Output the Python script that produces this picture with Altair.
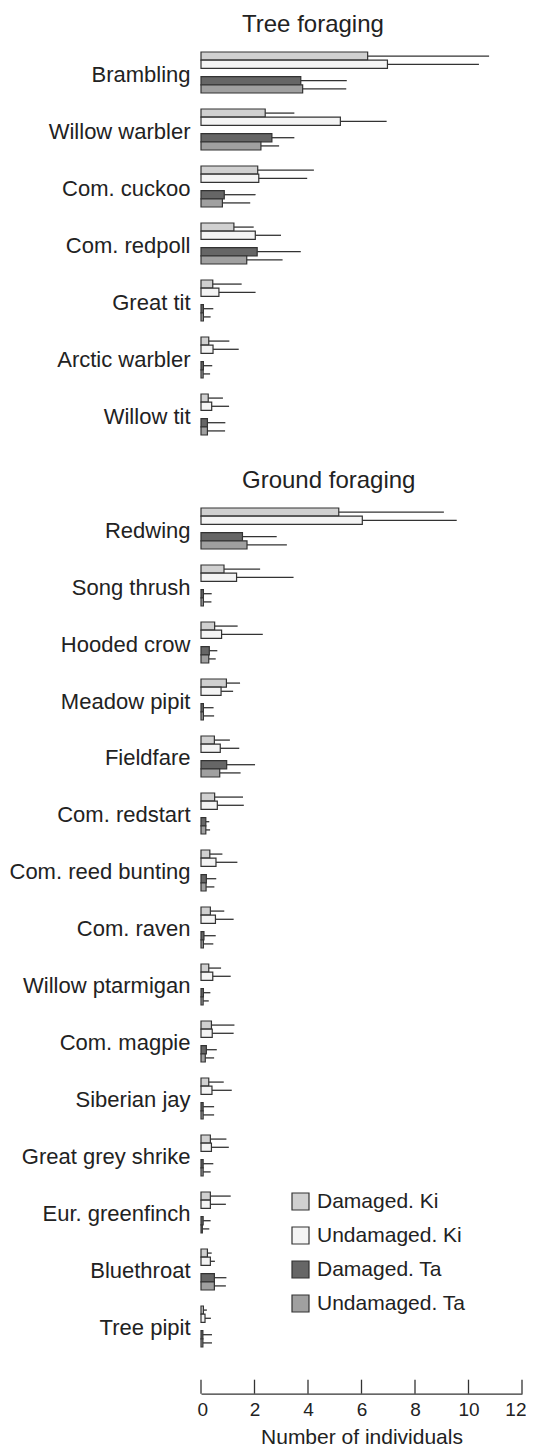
import altair as alt
import pandas as pd

groups = ["Damaged. Ki", "Undamaged. Ki", "Damaged. Ta", "Undamaged. Ta"]
colors = ["#d0d0d0", "#f4f4f4", "#666666", "#a0a0a0"]
offset_domain = ["Damaged. Ki", "Undamaged. Ki", "gap", "Damaged. Ta", "Undamaged. Ta"]
x_ticks = [0, 2, 4, 6, 8, 10, 12]

tree_species = ["Brambling", "Willow warbler", "Com. cuckoo", "Com. redpoll",
                "Great tit", "Arctic warbler", "Willow tit"]
tree_dk_mean = [6.23, 2.40, 2.12, 1.23, 0.44, 0.29, 0.27]
tree_dk_err = [10.77, 3.49, 4.22, 1.97, 1.52, 1.06, 0.82]
tree_uk_mean = [6.97, 5.21, 2.16, 2.03, 0.67, 0.45, 0.40]
tree_uk_err = [10.39, 6.94, 3.97, 2.99, 2.04, 1.41, 1.05]
tree_dt_mean = [3.73, 2.65, 0.87, 2.10, 0.09, 0.09, 0.24]
tree_dt_err = [5.45, 3.49, 2.04, 3.73, 0.46, 0.42, 0.91]
tree_ut_mean = [3.80, 2.24, 0.80, 1.71, 0.09, 0.08, 0.24]
tree_ut_err = [5.43, 2.92, 1.84, 3.05, 0.36, 0.34, 0.90]

ground_species = ["Redwing", "Song thrush", "Hooded crow", "Meadow pipit", "Fieldfare",
                  "Com. redstart", "Com. reed bunting", "Com. raven", "Willow ptarmigan",
                  "Com. magpie", "Siberian jay", "Great grey shrike", "Eur. greenfinch",
                  "Bluethroat", "Tree pipit"]
ground_dk_mean = [5.15, 0.86, 0.51, 0.95, 0.50, 0.51, 0.33, 0.35, 0.29, 0.39, 0.29, 0.35, 0.35, 0.24, 0.09]
ground_dk_err = [9.08, 2.21, 1.37, 1.46, 1.08, 1.57, 0.80, 0.87, 0.75, 1.25, 0.85, 0.95, 1.11, 0.40, 0.22]
ground_uk_mean = [6.03, 1.33, 0.77, 0.75, 0.72, 0.61, 0.56, 0.54, 0.44, 0.42, 0.41, 0.39, 0.35, 0.35, 0.15]
ground_uk_err = [9.56, 3.46, 2.31, 1.20, 1.43, 1.60, 1.36, 1.22, 1.11, 1.22, 1.15, 1.04, 0.93, 0.52, 0.37]
ground_dt_mean = [1.55, 0.09, 0.31, 0.09, 0.96, 0.18, 0.20, 0.11, 0.09, 0.20, 0.08, 0.08, 0.08, 0.50, 0.07]
ground_dt_err = [2.83, 0.40, 0.61, 0.47, 2.02, 0.31, 0.57, 0.55, 0.35, 0.59, 0.49, 0.46, 0.36, 0.95, 0.41]
ground_ut_mean = [1.72, 0.09, 0.29, 0.09, 0.70, 0.18, 0.19, 0.09, 0.08, 0.16, 0.08, 0.08, 0.05, 0.50, 0.07]
ground_ut_err = [3.21, 0.39, 0.55, 0.49, 1.48, 0.34, 0.50, 0.46, 0.29, 0.49, 0.49, 0.36, 0.31, 0.93, 0.41]


def long_df(species, means, errs):
    rows = []
    for g, m_list, e_list in zip(groups, means, errs):
        for s, m, e in zip(species, m_list, e_list):
            rows.append({"species": s, "group": g, "mean": m, "err": e})
    return pd.DataFrame(rows)


tree_df = long_df(tree_species,
                  [tree_dk_mean, tree_uk_mean, tree_dt_mean, tree_ut_mean],
                  [tree_dk_err, tree_uk_err, tree_dt_err, tree_ut_err])
ground_df = long_df(ground_species,
                    [ground_dk_mean, ground_uk_mean, ground_dt_mean, ground_ut_mean],
                    [ground_dk_err, ground_uk_err, ground_dt_err, ground_ut_err])
ticks_df = pd.DataFrame({"t": x_ticks})

FONT = "Liberation Sans"
TXT = "#222222"
W = 321


def panel(df, species, height, po, align, title, x_axis, legend):
    y_enc = alt.Y("species:N", sort=species,
                  scale=alt.Scale(domain=species, paddingInner=0.28, paddingOuter=po, align=align),
                  axis=alt.Axis(title=None, domain=False, ticks=False, labelFontSize=22,
                                labelPadding=11, labelColor=TXT, labelFont=FONT, labelOffset=2,
                                labelLimit=400))
    yoff = alt.YOffset("group:N", scale=alt.Scale(domain=offset_domain, paddingInner=0, paddingOuter=0))
    x_scale = alt.Scale(domain=[0, 12], nice=False, zero=True)
    bars = alt.Chart(df).mark_bar(stroke="#333333", strokeWidth=1.2, opacity=1).encode(
        x=alt.X("mean:Q", scale=x_scale, axis=x_axis),
        y=y_enc,
        yOffset=yoff,
        color=alt.Color("group:N", scale=alt.Scale(domain=groups, range=colors), legend=legend),
    )
    errs = alt.Chart(df).mark_rule(color="#333333", strokeWidth=1.3).encode(
        x=alt.X("mean:Q", scale=x_scale),
        x2="err:Q",
        y=y_enc,
        yOffset=yoff,
    )
    layers = [bars, errs]
    if x_axis is not None:
        tk = alt.Chart(ticks_df).mark_rule(color="#333333", strokeWidth=1.3).encode(
            x=alt.X("t:Q", scale=x_scale),
            y=alt.value(height - 14),
            y2=alt.value(height),
        )
        layers.append(tk)
    return alt.layer(*layers).properties(
        width=W, height=height,
        title=alt.TitleParams(text=title, anchor="start", frame="group", dx=41, fontSize=24,
                              fontWeight="normal", font=FONT, color=TXT, offset=7),
    )


tree = panel(tree_df, tree_species, 455.6, 0.6365, 0.11, "Tree foraging", None, None)

ground_axis = alt.Axis(values=x_ticks, tickSize=0, domainColor="#333333", domainWidth=1.3,
                       labelFontSize=19, labelPadding=7, labelColor=TXT, labelFont=FONT,
                       labelFlush=True, labelFlushOffset=4,
                       title="Number of individuals", titleFontSize=21, titleFontWeight="normal",
                       titleFont=FONT, titleColor=TXT, titlePadding=7, grid=False)
ground_legend = alt.Legend(orient="none", legendX=89, legendY=691, title=None, symbolType="square",
                           symbolSize=289, symbolStrokeColor="#333333", symbolStrokeWidth=1.2,
                           symbolOpacity=1, labelFontSize=21, labelFont=FONT, labelColor=TXT,
                           rowPadding=11, labelOffset=6, padding=0)
ground = panel(ground_df, ground_species, 893.7, 0.4795, 0.146, "Ground foraging", ground_axis, ground_legend)

chart = alt.vconcat(tree, ground, spacing=0, bounds="flush").resolve_scale(
    y="independent", yOffset="independent", color="independent"
).properties(
    padding={"left": 1, "top": 5, "right": 0, "bottom": 0},
    background="white",
).configure_view(strokeWidth=0, stroke="transparent")

chart.save("out.html", embed_options={"renderer": "svg", "actions": False})
